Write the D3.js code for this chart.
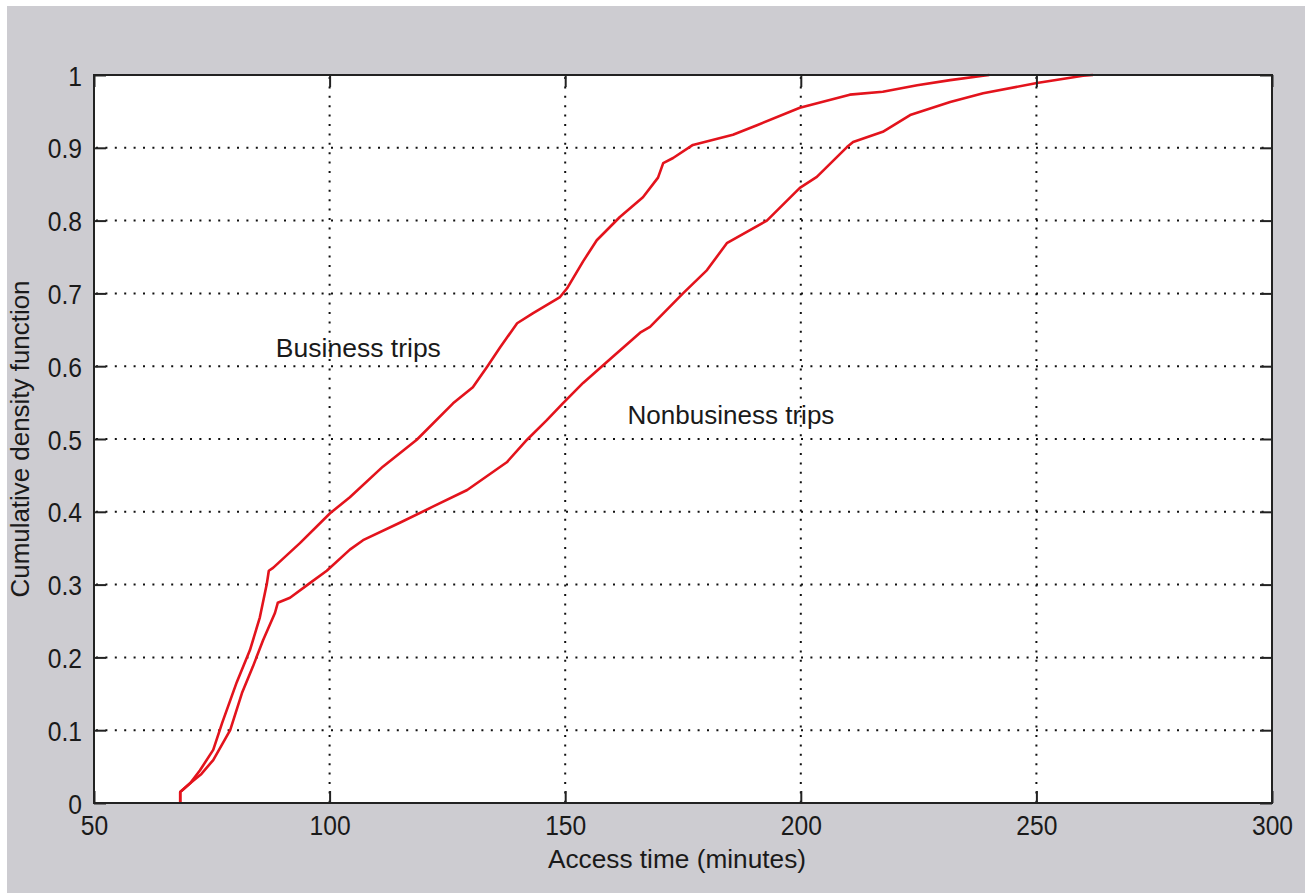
<!DOCTYPE html>
<html>
<head>
<meta charset="utf-8">
<script src="https://cdn.jsdelivr.net/npm/d3@7"></script>
<style>
  html, body { margin: 0; padding: 0; background: #ffffff; }
  svg { display: block; }
  text { font-family: "Liberation Sans", Arial, sans-serif; fill: #1a1a1a; }
</style>
</head>
<body>
<svg id="chart" width="1305" height="896"></svg>
<script>
// Access time (minutes) and cumulative share of trips
const businessTime = [68.3, 68.3, 70.4, 72.5, 75.3, 77.2, 80.3, 83.1, 85.2, 86.7, 87.1, 88.0, 93.7, 100.1, 104.3, 111.3, 118.5, 126.2, 130.4, 133.4, 136.2, 139.8, 143.2, 148.9, 150.4, 153.8, 156.7, 161.6, 166.5, 169.7, 170.8, 172.9, 177.1, 185.6, 190.7, 199.8, 210.4, 217.4, 224.7, 231.7, 238.7, 240.0];
const businessCdf  = [0, 0.015, 0.027, 0.045, 0.073, 0.110, 0.166, 0.210, 0.255, 0.302, 0.319, 0.323, 0.357, 0.398, 0.420, 0.462, 0.499, 0.549, 0.571, 0.599, 0.626, 0.659, 0.673, 0.695, 0.707, 0.744, 0.773, 0.805, 0.832, 0.859, 0.879, 0.886, 0.904, 0.918, 0.931, 0.955, 0.973, 0.977, 0.986, 0.993, 0.999, 1.0];

const nonbusinessTime = [68.3, 68.3, 70.4, 72.8, 75.3, 78.9, 81.4, 83.7, 85.9, 88.4, 89.0, 91.6, 95.8, 99.4, 104.3, 107.1, 114.9, 121.9, 129.2, 137.6, 141.9, 146.1, 149.5, 153.8, 160.1, 165.9, 168.0, 175.0, 180.1, 184.3, 192.8, 199.8, 203.4, 209.8, 211.1, 217.4, 223.2, 231.7, 238.7, 250.1, 259.9, 262.0];
const nonbusinessCdf  = [0, 0.015, 0.027, 0.040, 0.059, 0.100, 0.151, 0.187, 0.224, 0.261, 0.275, 0.282, 0.302, 0.319, 0.348, 0.361, 0.385, 0.407, 0.430, 0.468, 0.499, 0.526, 0.549, 0.577, 0.613, 0.646, 0.654, 0.700, 0.732, 0.769, 0.800, 0.845, 0.860, 0.901, 0.908, 0.922, 0.945, 0.963, 0.975, 0.989, 0.999, 1.0];

const xTicks = [50, 100, 150, 200, 250, 300];
const yTicks = [0, 0.1, 0.2, 0.3, 0.4, 0.5, 0.6, 0.7, 0.8, 0.9, 1];

const seriesLabels = [
  { text: "Business trips", time: 88.6, cdf: 0.613, width: 165 },
  { text: "Nonbusiness trips", time: 163.2, cdf: 0.520, width: 207 }
];

const svg = d3.select("#chart");
const W = 1305, H = 896;
const plot = { left: 94, right: 1272, top: 75, bottom: 803 };

const x = d3.scaleLinear().domain([50, 300]).range([plot.left, plot.right]);
const y = d3.scaleLinear().domain([0, 1]).range([plot.bottom, plot.top]);

// figure background
svg.append("rect").attr("x", 7).attr("y", 6).attr("width", W - 7).attr("height", 887)
  .attr("fill", "#cdccd1");

// axes area
svg.append("rect")
  .attr("x", plot.left).attr("y", plot.top)
  .attr("width", plot.right - plot.left).attr("height", plot.bottom - plot.top)
  .attr("fill", "#ffffff");

// dotted grid
const grid = svg.append("g").attr("stroke", "#111").attr("stroke-width", 2)
  .attr("stroke-dasharray", "2,7.4");
grid.selectAll("line.gx").data(xTicks.slice(1, -1)).join("line")
  .attr("x1", d => x(d)).attr("x2", d => x(d))
  .attr("y1", plot.top + 2).attr("y2", plot.bottom);
grid.selectAll("line.gy").data(yTicks.slice(1, -1)).join("line")
  .attr("x1", plot.left + 2).attr("x2", plot.right)
  .attr("y1", d => y(d)).attr("y2", d => y(d));

// CDF curves
const line = d3.line().x(d => x(d[0])).y(d => y(d[1]));
const curves = [
  d3.zip(businessTime, businessCdf),
  d3.zip(nonbusinessTime, nonbusinessCdf)
];
svg.append("g").selectAll("path").data(curves).join("path")
  .attr("d", line)
  .attr("fill", "none")
  .attr("stroke", "#e3131c")
  .attr("stroke-width", 2.6)
  .attr("stroke-linejoin", "round");

// axes: inward ticks on all four sides, labels on bottom and left
const tickLen = 12;
const sx = 0.88;
const axisBottom = d3.axisBottom(x).tickValues(xTicks).tickFormat(d3.format("d"))
  .tickSizeInner(-tickLen).tickSizeOuter(0).tickPadding(12);
const axisLeft = d3.axisLeft(y).tickValues(yTicks).tickFormat(d => d === 0 ? "0" : d === 1 ? "1" : d3.format(".1f")(d))
  .tickSizeInner(-tickLen).tickSizeOuter(0).tickPadding(11);
const axisTop = d3.axisTop(x).tickValues(xTicks).tickFormat("").tickSizeInner(-tickLen).tickSizeOuter(0);
const axisRight = d3.axisRight(y).tickValues(yTicks).tickFormat("").tickSizeInner(-tickLen).tickSizeOuter(0);

function styleAxis(g) {
  g.select(".domain").remove();
  g.selectAll(".tick line").attr("stroke", "#222").attr("stroke-width", 2);
  g.selectAll(".tick text").attr("fill", "#262626").style("font-size", "28px")
    .style("font-family", "'Liberation Sans', Arial, sans-serif");
}

const gB = svg.append("g").attr("transform", `translate(0,${plot.bottom})`).call(axisBottom).call(styleAxis);
gB.selectAll(".tick text").attr("dy", null).attr("y", 32).attr("transform", `scale(${sx},1)`);

const gL = svg.append("g").attr("transform", `translate(${plot.left},0)`).call(axisLeft).call(styleAxis);
gL.selectAll(".tick text").attr("x", -12 / sx).attr("dy", "0.36em").attr("transform", `scale(${sx},1)`);

svg.append("g").attr("transform", `translate(0,${plot.top})`).call(axisTop).call(styleAxis);
svg.append("g").attr("transform", `translate(${plot.right},0)`).call(axisRight).call(styleAxis);

// frame
svg.append("rect")
  .attr("x", plot.left).attr("y", plot.top)
  .attr("width", plot.right - plot.left).attr("height", plot.bottom - plot.top)
  .attr("fill", "none").attr("stroke", "#222").attr("stroke-width", 2);

// axis titles
svg.append("text")
  .attr("x", 677).attr("y", 868)
  .attr("text-anchor", "middle").style("font-size", "26px")
  .attr("textLength", 258).attr("lengthAdjust", "spacingAndGlyphs")
  .text("Access time (minutes)");

svg.append("text")
  .attr("transform", `translate(29,${(plot.top + plot.bottom) / 2}) rotate(-90)`)
  .attr("text-anchor", "middle").style("font-size", "26px")
  .attr("textLength", 317).attr("lengthAdjust", "spacingAndGlyphs")
  .text("Cumulative density function");

// series annotations
svg.append("g").selectAll("text").data(seriesLabels).join("text")
  .attr("x", d => x(d.time)).attr("y", d => y(d.cdf))
  .style("font-size", "26px")
  .attr("textLength", d => d.width).attr("lengthAdjust", "spacingAndGlyphs")
  .text(d => d.text);
</script>
</body>
</html>
